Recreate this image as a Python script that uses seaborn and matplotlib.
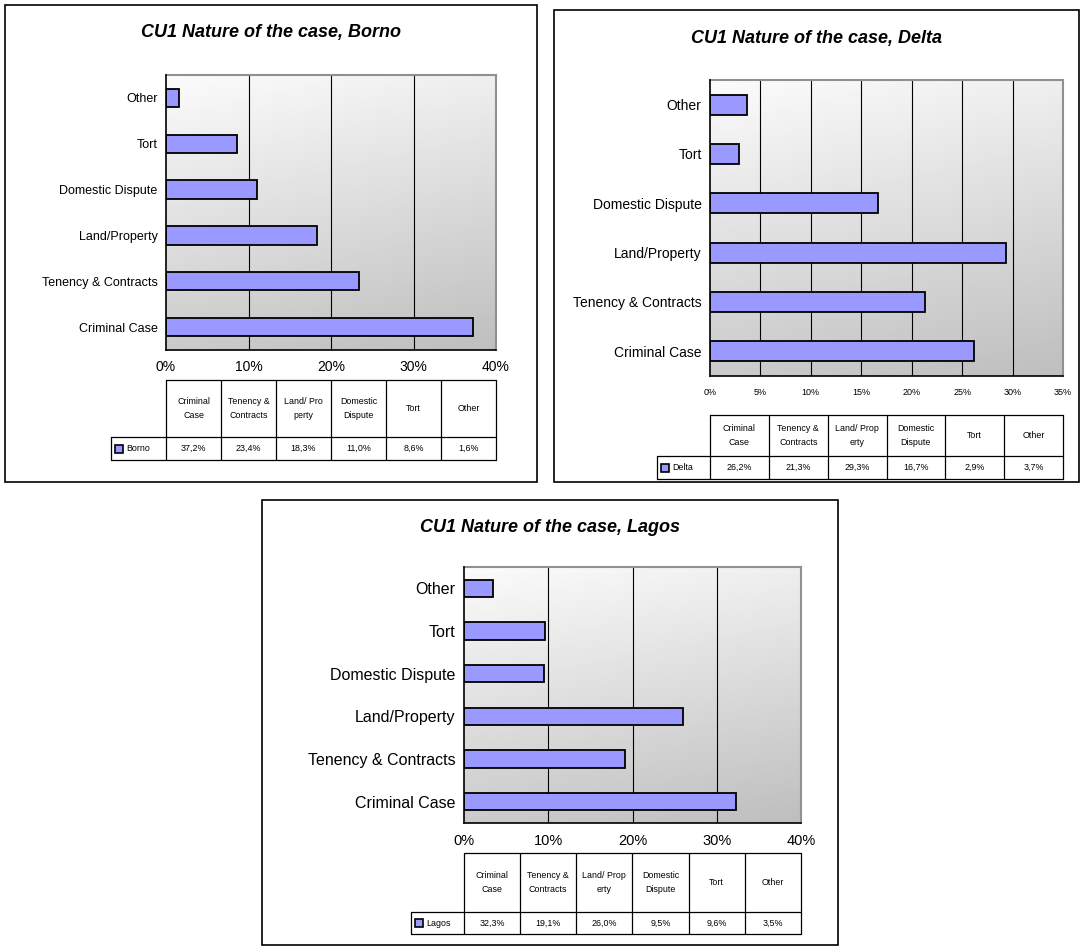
import matplotlib
matplotlib.use("Agg")
import matplotlib.pyplot as plt
import seaborn as sns
import pandas as pd
import numpy as np
from matplotlib.patches import Rectangle

sns.set_style("white")
plt.rcParams['font.family'] = ['Liberation Sans', 'DejaVu Sans']
plt.rcParams.update({"text.color": "black", "xtick.color": "black",
                     "ytick.color": "black", "axes.labelcolor": "black"})

# data (table order)
categories = ["Criminal Case", "Tenency & Contracts", "Land/Property",
              "Domestic Dispute", "Tort", "Other"]
borno = [37.2, 23.4, 18.3, 11.0, 8.6, 1.6]
delta = [26.2, 21.3, 29.3, 16.7, 2.9, 3.7]
lagos = [32.3, 19.1, 26.0, 9.5, 9.6, 3.5]
headers_borno = ["Criminal\nCase", "Tenency &\nContracts", "Land/ Pro\nperty",
                 "Domestic\nDispute", "Tort", "Other"]
headers_other = ["Criminal\nCase", "Tenency &\nContracts", "Land/ Prop\nerty",
                 "Domestic\nDispute", "Tort", "Other"]
order = categories[::-1]

W, H = 1082, 952
fig = plt.figure(figsize=(W / 100, H / 100), dpi=100)
fig.patch.set_facecolor("white")

BAR = "#9999FF"


def px_axes(x0, y0, x1, y1):
    return fig.add_axes([x0 / W, 1 - y1 / H, (x1 - x0) / W, (y1 - y0) / H])


def panel(name, vals, headers, frame, plot, title_y, tbl, xmax, xstep,
          tick_fs, cat_fs, tick_pad, hdr_fs=6.4):
    fx0, fy0, fx1, fy1 = frame
    fig.add_artist(Rectangle((fx0 / W, 1 - fy1 / H), (fx1 - fx0) / W, (fy1 - fy0) / H,
                             transform=fig.transFigure, fill=False, ec="black", lw=1.2))
    fig.text((fx0 + fx1) / 2 / W, 1 - title_y / H, f"CU1 Nature of the case, {name}",
             ha="center", va="center", fontsize=13, fontweight="bold", style="italic")

    px0, py0, px1, py1 = plot
    ax = px_axes(px0, py0, px1, py1)
    df = pd.DataFrame({"category": categories, "value": np.array(vals) / 100})
    # gradient background
    yy, xx = np.mgrid[0:1:200j, 0:1:200j]
    grad = 0.985 - 0.19 * yy - 0.05 * xx
    ax.imshow(grad, cmap="gray", vmin=0, vmax=1, extent=[0, 1, 0, 1],
              transform=ax.transAxes, aspect="auto", zorder=0, origin="upper")
    sns.barplot(data=df, x="value", y="category", order=order, color=BAR,
                saturation=1, edgecolor="black", linewidth=1.3, width=0.4,
                ax=ax, zorder=3)
    ax.set_xlim(0, xmax)
    ax.set_ylim(5.5, -0.5)
    ticks = np.arange(0, xmax + 1e-9, xstep)
    ax.set_xticks(ticks)
    ax.set_xticklabels([f"{t * 100:.0f}%" for t in ticks], fontsize=tick_fs)
    for t in ticks[1:-1]:
        ax.axvline(t, color="black", lw=0.8, zorder=1)
    ax.set_xlabel("")
    ax.set_ylabel("")
    ax.tick_params(axis="y", which="major", length=0, labelsize=cat_fs, pad=6)
    ax.set_yticks(np.arange(-0.5, 6, 1), minor=True)
    ax.tick_params(axis="y", which="minor", length=4, width=1, direction="out")
    ax.tick_params(axis="x", length=6, width=1, direction="inout", pad=tick_pad)
    for s in ["left", "bottom"]:
        ax.spines[s].set_color("black")
        ax.spines[s].set_linewidth(1.2)
        ax.spines[s].set_zorder(5)
    for s in ["top", "right"]:
        ax.spines[s].set_color("#909090")
        ax.spines[s].set_linewidth(1.5)

    # data table
    htop, hbot, rbot, lleft = tbl
    tax = px_axes(lleft, htop, px1, rbot + 1)
    tax.set_xlim(lleft, px1)
    tax.set_ylim(rbot + 1, htop)
    tax.axis("off")
    colw = (px1 - px0) / len(categories)
    kw = dict(color="black", lw=0.9, clip_on=False)
    for i in range(len(categories) + 1):
        x = px0 + i * colw
        tax.plot([x, x], [htop, rbot], **kw)
    tax.plot([px0, px1], [htop, htop], **kw)
    tax.plot([lleft, px1], [hbot, hbot], **kw)
    tax.plot([lleft, px1], [rbot, rbot], **kw)
    tax.plot([lleft, lleft], [hbot, rbot], **kw)
    for i, (h, v) in enumerate(zip(headers, vals)):
        cx = px0 + (i + 0.5) * colw
        tax.text(cx, (htop + hbot) / 2, h, ha="center", va="center",
                 fontsize=hdr_fs, linespacing=1.8)
        tax.text(cx, (hbot + rbot) / 2, f"{v:.1f}%".replace(".", ","),
                 ha="center", va="center", fontsize=hdr_fs)
    cy = (hbot + rbot) / 2
    tax.add_patch(Rectangle((lleft + 4, cy - 4), 8, 8, fc=BAR, ec="black",
                            lw=1.2, clip_on=False))
    tax.text(lleft + 15, cy, name, ha="left", va="center", fontsize=hdr_fs)
    return ax


panel("Borno", borno, headers_borno, (5, 5, 537, 482), (166, 75, 496, 350), 33,
      (380, 437, 460, 111), 0.4, 0.1, 10, 9, 4)
panel("Delta", delta, headers_other, (554, 10, 1079, 482), (710, 80, 1063, 376), 38,
      (415, 456, 479, 657), 0.35, 0.05, 6.5, 10, 6)
panel("Lagos", lagos, headers_other, (262, 500, 838, 945), (464, 567, 801, 823), 528,
      (853, 912, 934, 411), 0.4, 0.1, 10.5, 11.5, 5)

fig.savefig("out.png", dpi=100)
